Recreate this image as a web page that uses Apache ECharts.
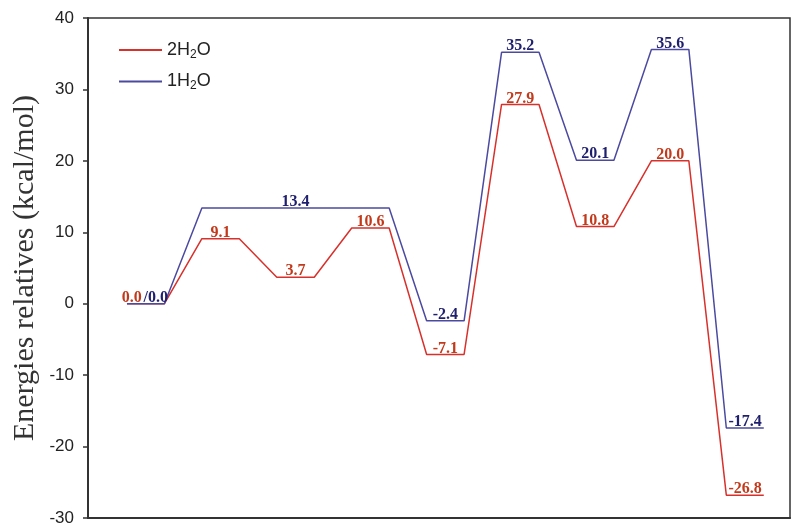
<!DOCTYPE html>
<html>
<head>
<meta charset="utf-8">
<script src="https://cdn.jsdelivr.net/npm/echarts@6/dist/echarts.min.js"></script>
<style>
  html, body { margin: 0; padding: 0; background: #fff; }
  #chart { width: 791px; height: 527px; }
</style>
</head>
<body>
<div id="chart"></div>
<script>
// energy profile, one level per reaction state
const seriesNames = ['2H2O', '1H2O']
const energy2H2O = [0.0, 9.1, 3.7, 10.6, -7.1, 27.9, 10.8, 20.0, -26.8]
const energy1H2O = [0.0, 13.4, 13.4, 13.4, -2.4, 35.2, 20.1, 35.6, -17.4]
const labels2H2O = ['0.0', '9.1', '3.7', '10.6', '-7.1', '27.9', '10.8', '20.0', '-26.8']
const labels1H2O = ['/0.0', '', '13.4', '', '-2.4', '35.2', '20.1', '35.6', '-17.4']
const yTicks = [-30, -20, -10, 0, 10, 20, 30, 40]

const halfWidth = 0.25

// each state -> flat segment: left end, middle (carries label), right end
const buildLevels = (energies, labels, offsetFirst) => {
  const data = []
  energies.forEach((e, i) => {
    data.push([i - halfWidth, e])
    const mid = { value: [i, e] }
    if (labels[i]) {
      mid.label = { show: true, formatter: labels[i] }
      if (i === 0) mid.label.offset = [offsetFirst, 0]
    }
    data.push(mid)
    data.push([i + halfWidth, e])
  })
  return data
}

const chart = echarts.init(document.getElementById('chart'))

const labelBase = {
  show: false,
  position: 'top',
  distance: -2,
  fontFamily: 'Liberation Serif',
  fontWeight: 'bold',
  fontSize: 16
}

const option = {
  animation: false,
  grid: {
    left: 88,
    right: 1,
    top: 18,
    bottom: 9,
    outerBoundsMode: 'none',
    show: true,
    borderColor: '#333',
    borderWidth: 1.5
  },
  legend: {
    data: seriesNames,
    orient: 'vertical',
    left: 114,
    top: 36,
    itemGap: 12,
    itemWidth: 43,
    itemHeight: 2,
    icon: 'rect',
    formatter: (name) => '{n|' + name.slice(0, 2) + '}{s|2}{n|O}',
    textStyle: {
      rich: {
        n: { fontFamily: 'Liberation Sans', fontSize: 18, color: '#222' },
        s: { fontFamily: 'Liberation Sans', fontSize: 12, color: '#222', padding: [9, 0, 0, 0] }
      }
    }
  },
  xAxis: {
    type: 'value',
    min: -0.77,
    max: 8.6,
    axisLine: { show: true, onZero: false, lineStyle: { color: '#333', width: 2 } },
    axisTick: { show: false },
    axisLabel: { show: false },
    splitLine: { show: false }
  },
  yAxis: {
    type: 'value',
    min: yTicks[0],
    max: yTicks[yTicks.length - 1],
    interval: 10,
    name: 'Energies relatives (kcal/mol)',
    nameLocation: 'middle',
    nameGap: 48,
    nameMoveOverlap: false,
    nameTextStyle: { fontFamily: 'Liberation Serif', fontSize: 30, color: '#333' },
    axisLine: { show: true, onZero: false, lineStyle: { color: '#333', width: 2 } },
    axisTick: { show: true, length: 5, lineStyle: { color: '#333', width: 1.5 } },
    axisLabel: { fontFamily: 'Liberation Sans', fontSize: 17, color: '#222', margin: 14 },
    splitLine: { show: false }
  },
  series: [
    {
      name: seriesNames[0],
      type: 'line',
      data: buildLevels(energy2H2O, labels2H2O, -14),
      symbol: 'circle',
      symbolSize: 0,
      showSymbol: true,
      color: '#d8312c',
      lineStyle: { width: 1.5, color: '#d8312c' },
      label: Object.assign({}, labelBase, { color: '#c23a1c' }),
      z: 2
    },
    {
      name: seriesNames[1],
      type: 'line',
      data: buildLevels(energy1H2O, labels1H2O, 10),
      symbol: 'circle',
      symbolSize: 0,
      showSymbol: true,
      color: '#4b4aa0',
      lineStyle: { width: 1.5, color: '#4b4aa0' },
      label: Object.assign({}, labelBase, { color: '#1f1f6e' }),
      z: 3
    }
  ]
}

chart.setOption(option)
</script>
</body>
</html>
